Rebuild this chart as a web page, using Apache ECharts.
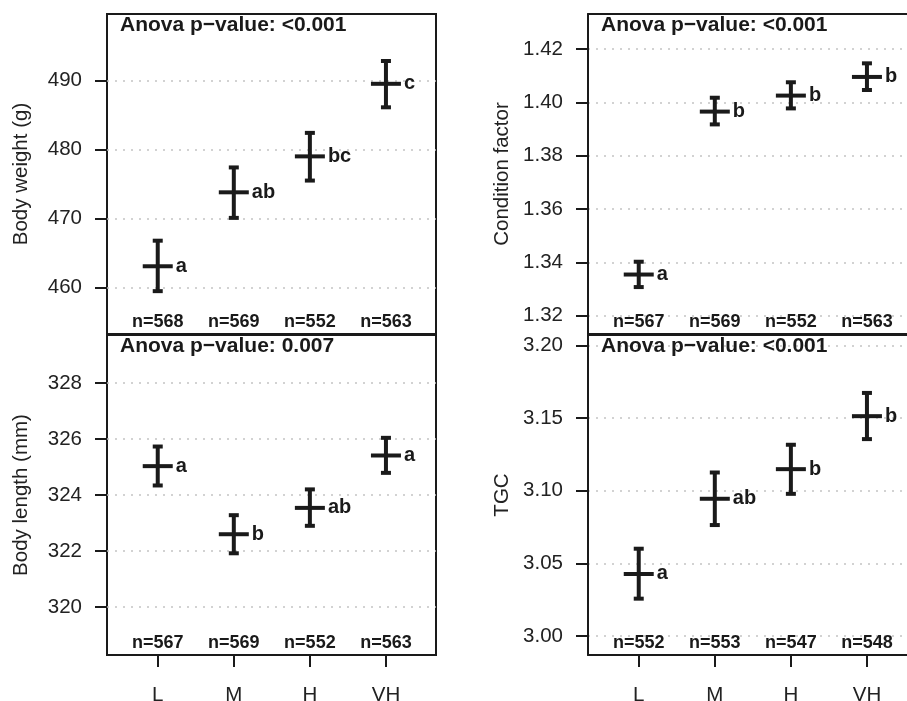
<!DOCTYPE html>
<html><head><meta charset="utf-8">
<script src="https://cdn.jsdelivr.net/npm/echarts@6/dist/echarts.min.js"></script>
<style>html,body{margin:0;padding:0;background:#fff;overflow:hidden}#c{width:907px;height:701px}</style>
</head><body><div id="c"></div><script>
const categories = ['L', 'M', 'H', 'VH'];
const xPos = [1, 2, 3, 4];

const bwMean = [463.1, 473.8, 479.0, 489.5];
const bwLow = [459.5, 470.1, 475.5, 486.1];
const bwHigh = [466.8, 477.4, 482.4, 492.8];
const bwLetters = ['a', 'ab', 'bc', 'c'];
const bwN = [568, 569, 552, 563];
const bwTicks = [460, 470, 480, 490];

const cfMean = [1.3354, 1.3965, 1.4025, 1.4095];
const cfLow = [1.3307, 1.3917, 1.3977, 1.4046];
const cfHigh = [1.3402, 1.4017, 1.4075, 1.4146];
const cfLetters = ['a', 'b', 'b', 'b'];
const cfN = [567, 569, 552, 563];
const cfTicks = [1.32, 1.34, 1.36, 1.38, 1.40, 1.42];

const blMean = [325.03, 322.60, 323.54, 325.41];
const blLow = [324.34, 321.92, 322.90, 324.79];
const blHigh = [325.73, 323.28, 324.20, 326.04];
const blLetters = ['a', 'b', 'ab', 'a'];
const blN = [567, 569, 552, 563];
const blTicks = [320, 322, 324, 326, 328];

const tgcMean = [3.0427, 3.0945, 3.1149, 3.1514];
const tgcLow = [3.0257, 3.0764, 3.0979, 3.1356];
const tgcHigh = [3.0601, 3.1126, 3.1317, 3.1674];
const tgcLetters = ['a', 'ab', 'b', 'b'];
const tgcN = [552, 553, 547, 548];
const tgcTicks = [3.00, 3.05, 3.10, 3.15, 3.20];

const anovaLabels = ['Anova p\u2212value: <0.001', 'Anova p\u2212value: <0.001', 'Anova p\u2212value: 0.007', 'Anova p\u2212value: <0.001'];
const yTitles = ['Body weight (g)', 'Condition factor', 'Body length (mm)', 'TGC'];

const panels = [
  {mean: bwMean, low: bwLow, high: bwHigh, letters: bwLetters, n: bwN, ticks: bwTicks, min: 453.3, max: 499.6, dec: 0, left: 107, top: 14, bottom: false, clipRight: false},
  {mean: cfMean, low: cfLow, high: cfHigh, letters: cfLetters, n: cfN, ticks: cfTicks, min: 1.3131, max: 1.4331, dec: 2, left: 588, top: 14, bottom: false, clipRight: true},
  {mean: blMean, low: blLow, high: blHigh, letters: blLetters, n: blN, ticks: blTicks, min: 318.29, max: 329.71, dec: 0, left: 107, top: 335, bottom: true, clipRight: false},
  {mean: tgcMean, low: tgcLow, high: tgcHigh, letters: tgcLetters, n: tgcN, ticks: tgcTicks, min: 2.9869, max: 3.2073, dec: 2, left: 588, top: 335, bottom: true, clipRight: true}
];

const INK = '#1a1a1a';
const FONT = '"Liberation Sans", Arial, Helvetica, sans-serif';
const edge = {show: true, lineStyle: {color: INK, width: 2}};

const grid = [], xAxis = [], yAxis = [], series = [], title = [];
panels.forEach((p, i) => {
  grid.push({left: p.left, top: p.top, width: 329, height: 320, show: !p.clipRight, borderColor: INK, borderWidth: 2,
    backgroundColor: 'transparent', containLabel: false, outerBoundsMode: 'none'});
  xAxis.push({
    type: 'value', gridIndex: i, min: 0.333, max: 4.658, position: 'bottom',
    axisLine: p.clipRight ? edge : {show: false},
    axisTick: {show: p.bottom, customValues: xPos, length: 12, lineStyle: {color: INK, width: 2}},
    axisLabel: {show: p.bottom, customValues: xPos, formatter: v => categories[Math.round(v) - 1], fontSize: 20.5, color: '#222', fontFamily: FONT, margin: 30},
    splitLine: {show: false}
  });
  yAxis.push({
    type: 'value', gridIndex: i, min: p.min, max: p.max, position: 'left',
    name: yTitles[i], nameLocation: 'middle', nameGap: 75,
    nameTextStyle: {fontSize: 20.5, color: '#222', fontFamily: FONT},
    axisLine: p.clipRight ? edge : {show: false},
    axisTick: {show: true, customValues: p.ticks, length: 12, lineStyle: {color: INK, width: 2}},
    axisLabel: {customValues: p.ticks, formatter: v => v.toFixed(p.dec), fontSize: 20.5, color: '#222', fontFamily: FONT, margin: 25},
    splitLine: {show: true, lineStyle: {color: '#c4c4c4', type: [2, 6], width: 1.5}}
  });
  title.push({text: anovaLabels[i], left: p.left + 13, top: p.top + 1, padding: 0,
    textStyle: {fontSize: 21, fontWeight: 'bold', color: INK, fontFamily: FONT}});
  const data = xPos.map((x, k) => [x, p.mean[k], p.low[k], p.high[k]]);
  series.push({
    type: 'custom', xAxisIndex: i, yAxisIndex: i, data: data, clip: false,
    renderItem: (params, api) => {
      const x = api.value(0);
      const pm = api.coord([x, api.value(1)]);
      const pl = api.coord([x, api.value(2)]);
      const ph = api.coord([x, api.value(3)]);
      const cs = params.coordSys;
      const st = {stroke: INK, lineWidth: 4};
      return {type: 'group', children: [
        {type: 'line', shape: {x1: pm[0], y1: pl[1], x2: pm[0], y2: ph[1]}, style: st},
        {type: 'line', shape: {x1: pm[0] - 5, y1: pl[1], x2: pm[0] + 5, y2: pl[1]}, style: st},
        {type: 'line', shape: {x1: pm[0] - 5, y1: ph[1], x2: pm[0] + 5, y2: ph[1]}, style: st},
        {type: 'line', shape: {x1: pm[0] - 15, y1: pm[1], x2: pm[0] + 15, y2: pm[1]}, style: st},
        {type: 'text', style: {text: p.letters[params.dataIndex], x: pm[0] + 18, y: pm[1], align: 'left', verticalAlign: 'middle', fontSize: 20, fontWeight: 'bold', fill: INK, fontFamily: FONT}},
        {type: 'text', style: {text: 'n=' + p.n[params.dataIndex], x: pm[0], y: cs.y + cs.height - 11.5, align: 'center', verticalAlign: 'middle', fontSize: 18, fontWeight: 'bold', fill: INK, fontFamily: FONT}}
      ]};
    }
  });
});
// top edge lines for the right-hand panels (their right edge lies outside the picture)
panels.forEach((p, i) => {
  if (!p.clipRight) return;
  xAxis.push({type: 'value', gridIndex: i, min: 0.333, max: 4.658, position: 'top',
    axisLine: edge, axisTick: {show: false}, axisLabel: {show: false}, splitLine: {show: false}});
});

const chart = echarts.init(document.getElementById('c'), null, {renderer: 'canvas'});
chart.setOption({backgroundColor: '#fff', animation: false, title, grid, xAxis, yAxis, series});
</script></body></html>
